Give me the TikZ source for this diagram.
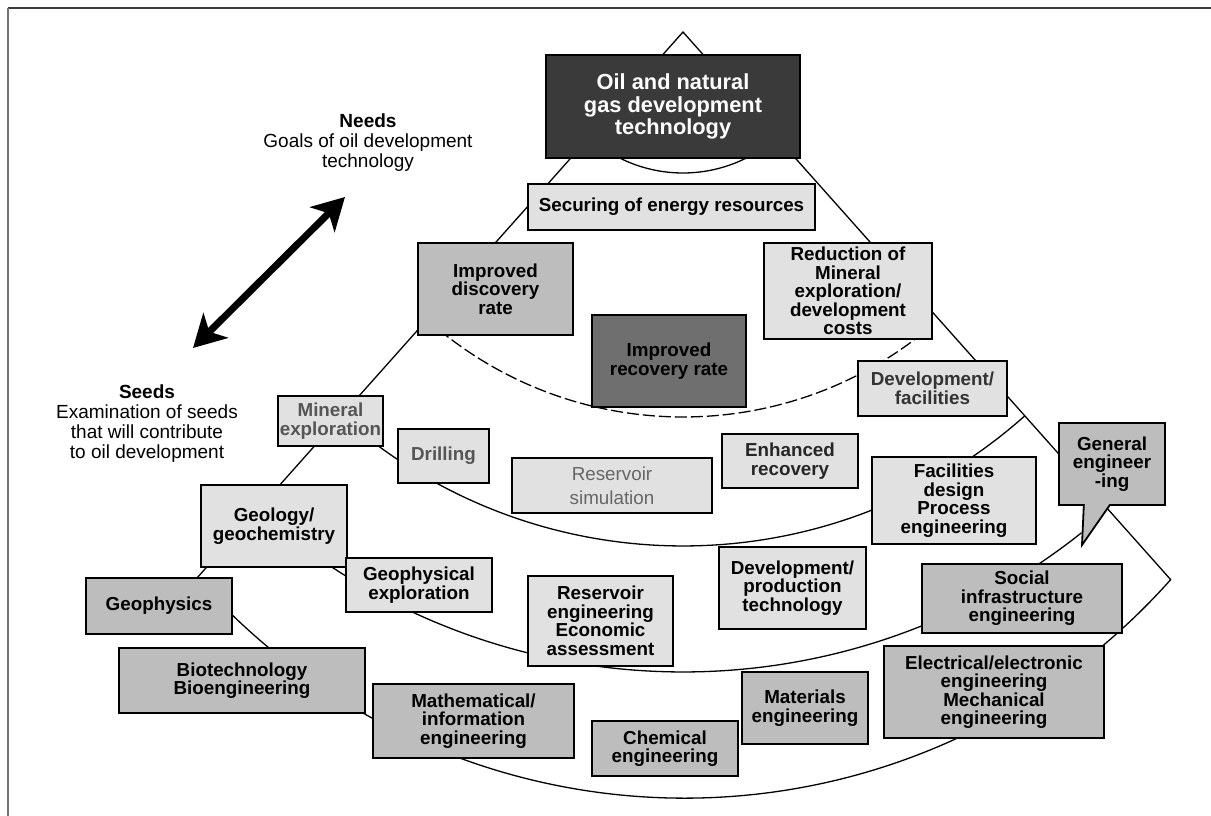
\documentclass[tikz,border=0pt]{standalone}
\usepackage{fontspec}
\setmainfont{Liberation Sans}
\usetikzlibrary{arrows.meta,shapes.callouts}
\definecolor{boxlight}{RGB}{225,225,225}
\definecolor{boxmid}{RGB}{189,189,189}
\definecolor{boxdark}{RGB}{111,111,111}
\definecolor{boxblack}{RGB}{58,58,58}
\definecolor{textgray}{RGB}{85,85,85}
\definecolor{framegray}{RGB}{60,60,60}

\begin{document}
\begin{tikzpicture}[x=1pt,y=-1pt,
  box/.style={draw=black,line width=1.8pt,align=center,inner sep=1pt,
    font={\bfseries\fontsize{18.8}{18.5}\selectfont}},
  lightbox/.style={box,fill=boxlight},
  midbox/.style={box,fill=boxmid},
  wh/.style 2 args={minimum width=#1pt,minimum height=#2pt},
  fanline/.style={line width=1.3pt},
  labeltext/.style={align=center,inner sep=0pt,font={\fontsize{19}{20}\selectfont}}]
  \useasboundingbox (0,0) rectangle (1211,816);
  % frame
  \draw[line width=1.5pt,framegray] (1211,8) -- (8,8);
  \draw[line width=1.2pt,black!55] (8,8) -- (8,816);
  %
  % Fan outline
  \coordinate (apex) at (683,32);
  \coordinate (leftend) at (197,578);
  \coordinate (rightend) at (1171,580);
  \draw[fanline] (leftend) -- (apex) -- (rightend);
  \draw[fanline] (leftend) arc[start angle=138.6,end angle=41.6,radius=650];
  % Inner arcs
  \foreach \r/\e in {141/48.3,514/48.3,640/51.5} {
    \draw[fanline] (apex) ++(131.7:\r) arc[start angle=131.7,end angle=\e,radius=\r];
  }
  \draw[fanline,dash pattern=on 12pt off 4pt] (apex) ++(131.7:385) arc[start angle=131.7,end angle=52,radius=385];
  %
  % Needs / seeds
  \node[labeltext] (needs) at (368,143) {\textbf{Needs}\\Goals of oil development\\technology};
  \node[labeltext] (seeds) at (147,424) {\textbf{Seeds}\\Examination of seeds\\that will contribute\\to oil development};
  \coordinate (needtip) at (345,197);
  \coordinate (seedtip) at (193,348);
  \draw[{Stealth[length=32pt,width=35pt,inset=9pt]}-{Stealth[length=32pt,width=35pt,inset=9pt]},line width=7pt]
    (seedtip) -- (needtip);
  %
  % Goals
  \node[box,fill=boxblack,text=white,wh={254}{103},font={\bfseries\fontsize{21.8}{22.5}\selectfont}] (oil) at (673,106.5) {Oil and natural\\gas development\\technology};
  \node[lightbox,wh={287}{46}] (secure) at (671.5,207) {Securing of energy resources};
  \node[midbox,wh={155}{92}] (discovery) at (495.5,289) {Improved\\discovery\\rate};
  \node[box,fill=boxdark,wh={154}{92}] (recovery) at (669,361) {Improved\\recovery rate};
  \node[lightbox,wh={168}{96}] (reduction) at (848,291) {Reduction of\\Mineral\\exploration/\\development\\costs};
  %
  % Technologies
  \node[lightbox,wh={149}{55},text=black!80] (devfac) at (932.5,388.5) {Development/\\facilities};
  \node[lightbox,wh={105}{50},text=textgray] (minexp) at (330.5,421) {Mineral\\exploration};
  \node[lightbox,wh={91}{54},text=textgray] (drilling) at (443.5,456) {Drilling};
  \node[lightbox,wh={200}{55},text=black!60,font={\fontsize{18.8}{24}\selectfont}] (ressim) at (612,485.5) {Reservoir\\simulation};
  \node[lightbox,wh={136}{54},text=black!85] (enhanced) at (790,461) {Enhanced\\recovery};
  \node[lightbox,wh={164}{87}] (facdesign) at (954,500.5) {Facilities\\design\\Process\\engineering};
  \node[lightbox,wh={146}{82}] (geology) at (274,526) {Geology/\\geochemistry};
  \node[lightbox,wh={146}{54}] (geophysexp) at (419,585) {Geophysical\\exploration};
  \node[lightbox,wh={145}{90}] (reseng) at (600.5,621) {Reservoir\\engineering\\Economic\\assessment};
  \node[lightbox,wh={147}{82}] (devprod) at (792.5,588) {Development/\\production\\technology};
  %
  % Seeds disciplines
  \node[midbox,rectangle callout,wh={106}{82},callout absolute pointer={(1082,545)},callout pointer width=26pt] (general) at (1112,464) {General\\engineer\\-ing};
  \node[midbox,wh={200}{69}] (social) at (1022,598.5) {Social\\infrastructure\\engineering};
  \node[midbox,wh={146}{56}] (geophysics) at (159,606) {Geophysics};
  \node[midbox,wh={246}{65}] (biotech) at (242,680.5) {Biotechnology\\Bioengineering};
  \node[midbox,wh={201}{74}] (math) at (473.5,721) {Mathematical/\\information\\engineering};
  \node[midbox,wh={146}{55}] (chemical) at (665,748.5) {Chemical\\engineering};
  \node[midbox,wh={126}{72}] (materials) at (805,708) {Materials\\engineering};
  \node[midbox,wh={220}{92}] (electrical) at (994,692) {Electrical/electronic\\engineering\\Mechanical\\engineering};
\end{tikzpicture}
\end{document}
